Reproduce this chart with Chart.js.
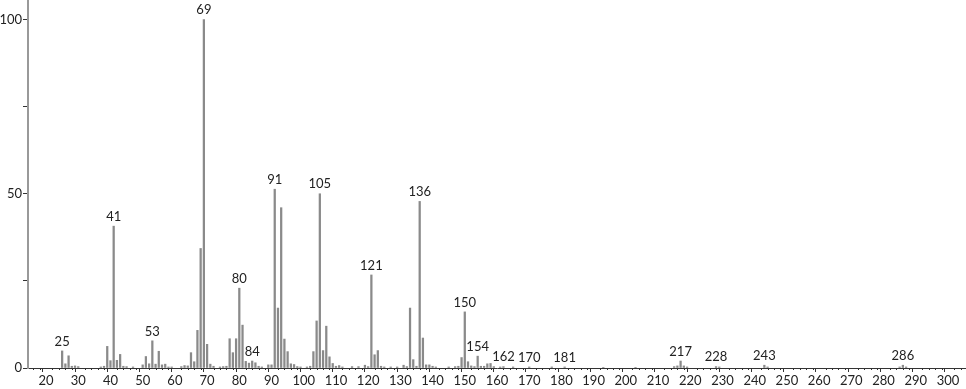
<!DOCTYPE html>
<html>
<head>
<meta charset="utf-8">
<script src="https://cdn.jsdelivr.net/npm/chart.js@4.4.1/dist/chart.umd.min.js"></script>
<style>
html,body{margin:0;padding:0;background:#fff;}
#wrap{width:966px;height:389px;position:relative;}
</style>
</head>
<body>
<div id="wrap"><canvas id="c"></canvas></div>
<script>
const mzValues = [25,26,27,28,29,30,37,38,39,40,41,42,43,44,45,47,50,51,52,53,54,55,56,57,58,59,62,63,64,65,66,67,68,69,70,71,72,74,75,76,77,78,79,80,81,82,83,84,85,86,87,89,90,91,92,93,94,95,96,97,98,99,101,102,103,104,105,106,107,108,109,110,111,112,115,117,119,120,121,122,123,124,125,127,129,131,132,133,134,135,136,137,138,139,140,141,145,147,148,149,150,151,152,153,154,155,156,157,158,159,161,162,165,170,177,181,193,203,215,216,217,218,219,228,229,243,244,285,286,287];
const intensities = [4.9,1.2,3.5,0.5,0.6,0.4,0.3,0.5,6.2,2.1,40.7,2.2,3.9,0.5,0.4,0.3,0.9,3.3,1.2,7.8,1.1,4.8,0.9,1.1,0.3,0.3,0.4,0.7,0.6,4.4,1.8,10.8,34.3,100,6.8,1.1,0.5,0.3,0.4,0.5,8.4,4.4,8.4,22.9,12.3,1.9,1.4,2.0,1.5,0.5,0.3,0.9,0.9,51.3,17.2,46.0,8.3,4.7,1.2,1.0,0.4,0.3,0.3,0.5,4.7,13.5,50.0,5.0,12.0,3.2,1.3,0.5,0.7,0.3,0.4,0.4,0.8,0.4,26.7,3.8,5.0,0.5,0.3,0.3,0.3,0.8,0.4,17.2,2.4,0.5,47.8,8.6,0.9,0.9,0.5,0.3,0.3,0.4,0.5,3.0,16.1,1.8,0.6,0.4,3.4,0.5,0.5,1.2,1.3,0.4,0.3,0.4,0.3,0.3,0.3,0.3,0.2,0.2,0.4,0.6,2.0,0.6,0.3,0.4,0.3,0.8,0.3,0.3,0.8,0.3];
const labeledPeaks = [25,41,53,69,80,84,91,105,121,136,150,154,162,170,181,217,228,243,286];
const yTickValues = [0,25,50,75,100];
const yLabelValues = [0,50,100];
const xMin = 14.4, xMax = 305.6, yMin = 0, yMax = 105.6;
const xMinorStep = 2, xMajorStep = 10;

const FONT = "Lato, 'Liberation Sans', sans-serif";

const points = mzValues.map((m,i)=>({x:m,y:intensities[i]}));

const peakLabels = {
  id:'peakLabels',
  afterDatasetsDraw(chart){
    const ctx = chart.ctx, xs = chart.scales.x, ys = chart.scales.y;
    ctx.save();
    ctx.font = "13px " + FONT;
    ctx.fillStyle = '#222';
    ctx.textAlign = 'center';
    ctx.textBaseline = 'bottom';
    labeledPeaks.forEach(m=>{
      const i = mzValues.indexOf(m);
      const v = i>=0 ? intensities[i] : 0;
      ctx.fillText(String(m), xs.getPixelForValue(m), ys.getPixelForValue(v) - 3);
    });
    ctx.restore();
  }
};

const minorTicks = {
  id:'minorTicks',
  afterDraw(chart){
    const ctx = chart.ctx, xs = chart.scales.x;
    const y0 = chart.chartArea.bottom;
    ctx.save();
    ctx.strokeStyle = '#333';
    ctx.lineWidth = 1;
    xs.ticks.forEach(t=>{
      if (t.value % xMajorStep !== 0){
        const px = Math.round(xs.getPixelForValue(t.value)) + 0.5;
        ctx.beginPath(); ctx.moveTo(px, y0); ctx.lineTo(px, y0+2); ctx.stroke();
      }
    });
    ctx.restore();
  }
};

new Chart(document.getElementById('c'), {
  type:'bar',
  data:{datasets:[{data:points, backgroundColor:'#8a8a8a', borderWidth:0, barThickness:1.6, grouped:false}]},
  options:{
    responsive:true, maintainAspectRatio:false, animation:false,
    layout:{padding:0},
    plugins:{legend:{display:false}, tooltip:{enabled:false}},
    scales:{
      x:{
        type:'linear', min:xMin, max:xMax, offset:false,
        afterBuildTicks(s){ const t=[]; for(let v=Math.ceil(xMin/xMinorStep)*xMinorStep; v<=xMax; v+=xMinorStep) t.push({value:v}); s.ticks=t; },
        afterFit(s){ s.height = 21; s.paddingLeft = 0; s.paddingRight = 0; },
        ticks:{autoSkip:false, maxRotation:0, padding:1, color:'#222', font:{family:FONT,size:13},
          callback:(v)=> v % xMajorStep === 0 ? String(v) : ''},
        grid:{drawOnChartArea:false, tickLength:4,
          tickColor:(c)=> (c.tick && c.tick.value % xMajorStep === 0) ? '#333' : 'rgba(0,0,0,0)'},
        border:{color:'#333', width:1}
      },
      y:{
        min:yMin, max:yMax,
        afterBuildTicks(s){ s.ticks = yTickValues.map(v=>({value:v})); },
        afterFit(s){ s.width = 28; s.paddingTop = 0; s.paddingBottom = 0; },
        ticks:{autoSkip:false, padding:1, color:'#222', font:{family:FONT,size:13},
          callback:(v)=> yLabelValues.includes(v) ? String(v) : ''},
        grid:{drawOnChartArea:false, tickLength:5, tickColor:'#333'},
        border:{color:'#999', width:2}
      }
    }
  },
  plugins:[peakLabels, minorTicks]
});
</script>
</body>
</html>
